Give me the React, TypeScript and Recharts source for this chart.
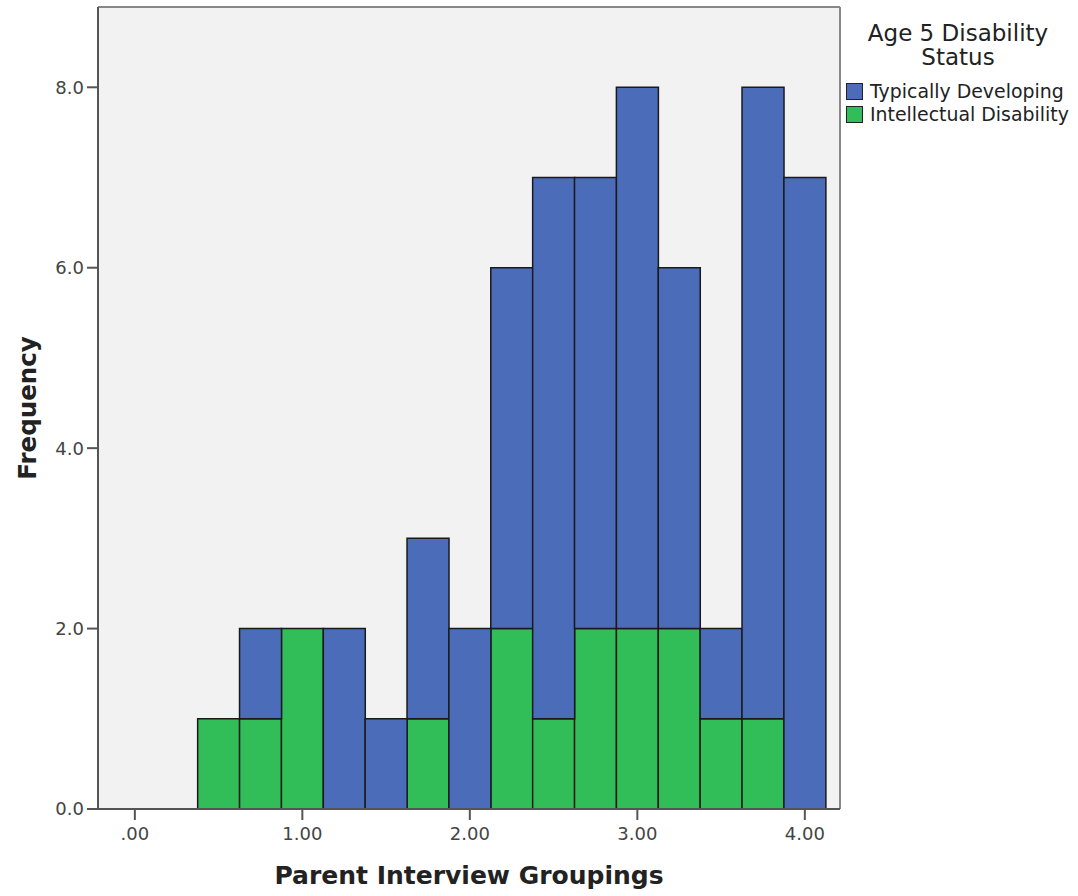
import { ComposedChart, Bar, XAxis, YAxis, CartesianGrid, ReferenceLine } from "recharts";

const BIN_CENTERS = [0.5, 0.75, 1.0, 1.25, 1.5, 1.75, 2.0, 2.25, 2.5, 2.75, 3.0, 3.25, 3.5, 3.75, 4.0];
const TYPICALLY_DEVELOPING = [0, 1, 0, 2, 1, 2, 2, 4, 6, 5, 6, 4, 1, 7, 7];
const INTELLECTUAL_DISABILITY = [1, 1, 2, 0, 0, 1, 0, 2, 1, 2, 2, 2, 1, 1, 0];
const X_TICKS = [0, 1, 2, 3, 4];
const Y_TICKS = [0, 2, 4, 6, 8];
const X_DOMAIN: [number, number] = [-0.22, 4.21];
const Y_DOMAIN: [number, number] = [0, 8.89];

const SERIES = [
  { key: "id", name: "Intellectual Disability", color: "#31bd58" },
  { key: "td", name: "Typically Developing", color: "#4a6cb9" },
];

const data = BIN_CENTERS.map((x, i) => ({
  x,
  td: TYPICALLY_DEVELOPING[i],
  id: INTELLECTUAL_DISABILITY[i],
}));

const FONT = '"DejaVu Sans", sans-serif';
const tickStyle = { fontSize: 18, fill: "#444", fontFamily: FONT };

const fmtX = (v: number) => (v === 0 ? ".00" : v.toFixed(2));
const fmtY = (v: number) => v.toFixed(1);

function LegendBox() {
  // legend stacks top-down in the reverse order of the bars
  const items = [...SERIES].reverse();
  return (
    <div style={{ position: "absolute", left: 846, top: 21, fontFamily: FONT, color: "#222" }}>
      <div style={{ width: 224, textAlign: "center", fontSize: 23, lineHeight: "24px" }}>
        Age 5 Disability
        <br />
        Status
      </div>
      <div style={{ marginTop: 10.5 }}>
        {items.map((s) => (
          <div key={s.key} style={{ display: "flex", alignItems: "center", height: 23 }}>
            <span
              style={{
                width: 15,
                height: 15,
                background: s.color,
                border: "1.5px solid #222",
                marginRight: 7,
                display: "inline-block",
              }}
            />
            <span style={{ fontSize: 18.9, whiteSpace: "nowrap" }}>{s.name}</span>
          </div>
        ))}
      </div>
    </div>
  );
}

export default function App() {
  return (
    <div style={{ position: "absolute", left: 0, top: 0, width: 1078, height: 896, background: "#fff" }}>
      <ComposedChart
        width={1078}
        height={896}
        data={data}
        margin={{ top: 7, right: 238, bottom: 0, left: 0 }}
        barCategoryGap={0}
        barGap={0}
      >
        <CartesianGrid fill="#f2f2f2" horizontal={false} vertical={false} />
        <XAxis
          dataKey="x"
          type="number"
          domain={X_DOMAIN}
          allowDataOverflow
          ticks={X_TICKS}
          tickFormatter={fmtX}
          height={87}
          tickSize={11}
          tickMargin={7}
          tick={tickStyle}
          axisLine={{ stroke: "#555", strokeWidth: 2 }}
          tickLine={{ stroke: "#555", strokeWidth: 2 }}
          label={{
            content: ({ viewBox }: any) => (
              <text
                x={viewBox.x + viewBox.width / 2}
                y={viewBox.y + 75}
                textAnchor="middle"
                style={{ fontSize: 25, fontWeight: "bold", fill: "#222", fontFamily: FONT }}
              >
                Parent Interview Groupings
              </text>
            ),
          }}
        />
        <YAxis
          type="number"
          domain={Y_DOMAIN}
          allowDataOverflow
          ticks={Y_TICKS}
          tickFormatter={fmtY}
          width={98}
          tickSize={11}
          tickMargin={3}
          tick={tickStyle}
          axisLine={{ stroke: "#555", strokeWidth: 2 }}
          tickLine={{ stroke: "#555", strokeWidth: 2 }}
          label={{
            content: ({ viewBox }: any) => {
              const cx = viewBox.x + 27;
              const cy = viewBox.y + viewBox.height / 2;
              return (
                <text
                  x={cx}
                  y={cy}
                  textAnchor="middle"
                  dominantBaseline="central"
                  transform={`rotate(-90 ${cx} ${cy})`}
                  style={{ fontSize: 24.5, fontWeight: "bold", fill: "#222", fontFamily: FONT }}
                >
                  Frequency
                </text>
              );
            },
          }}
        />
        <ReferenceLine y={Y_DOMAIN[1]} stroke="#888" strokeWidth={2} />
        <ReferenceLine x={X_DOMAIN[1]} stroke="#888" strokeWidth={2} />
        {SERIES.map((s) => (
          <Bar
            key={s.key}
            dataKey={s.key}
            name={s.name}
            stackId="a"
            fill={s.color}
            stroke="#1a1a1a"
            strokeWidth={1.5}
            isAnimationActive={false}
          />
        ))}
      </ComposedChart>
      <LegendBox />
    </div>
  );
}
